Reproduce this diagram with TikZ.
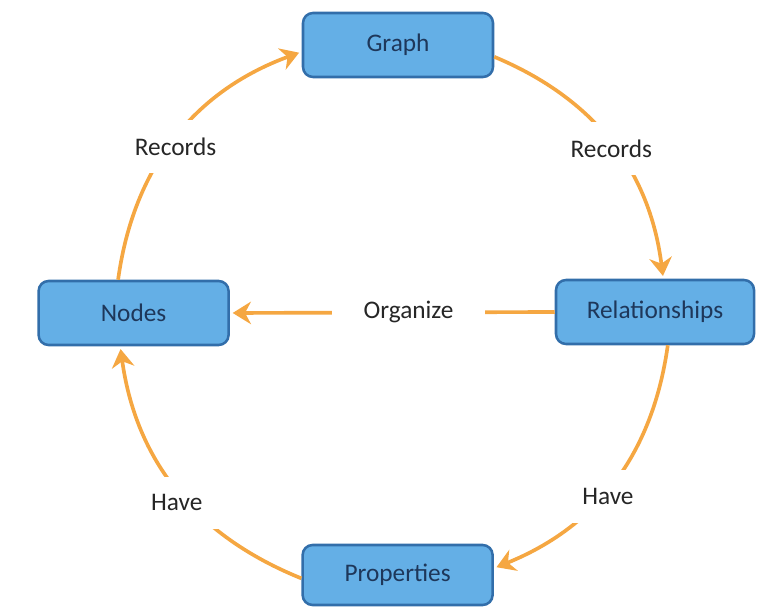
\documentclass[tikz,border=0pt]{standalone}
\usepackage{fontspec}
\setmainfont{Carlito}
\usetikzlibrary{arrows.meta}
\definecolor{boxfill}{RGB}{100,175,230}
\definecolor{boxline}{RGB}{50,110,170}
\definecolor{boxtext}{RGB}{30,55,90}
\definecolor{linkorange}{RGB}{245,167,66}

\begin{document}
\begin{tikzpicture}[
    entity/.style={rectangle, draw=boxline, line width=1.8pt, fill=boxfill, minimum width=4.75cm, minimum height=1.6cm, rounded corners=0.25cm, text=boxtext, font=\fontsize{18}{20}\selectfont},
    link/.style={draw=linkorange, line width=2.6pt, shorten >=2pt, -{Stealth[length=13pt,width=16pt]}},
    verb/.style={fill=white, inner sep=0.45cm, text=black!85, font=\fontsize{18}{20}\selectfont}
]
\useasboundingbox (0,0) rectangle (19.325,15.25);

% The four entities
\node[entity] (graph) at (9.95, 14.125) {Graph};
\node[entity] (nodes) at (3.34, 7.425) {Nodes};
\node[entity, minimum width=4.95cm] (rel) at (16.375, 7.45) {Relationships};
\node[entity, minimum height=1.5cm] (prop) at (9.94, 0.875) {Properties};

% Links round the circle
\draw[link] (nodes.115) to[bend left=31] node[verb, yshift=-6pt] {Records} (graph.184);
\draw[link] (graph.-7) to[bend left=30] node[verb, yshift=-4pt] {Records} (rel.76);
\draw[link] (rel.-69) to[bend left=30] node[verb, xshift=-4pt, yshift=-10pt] {Have} (prop.4);
\draw[link] (prop.182) to[bend left=30] node[verb, yshift=-10pt] {Have} (nodes.248);
\draw[link] (rel.west) -- node[verb, pos=0.45, inner xsep=0.78cm] {Organize} (nodes.east);
\end{tikzpicture}
\end{document}
